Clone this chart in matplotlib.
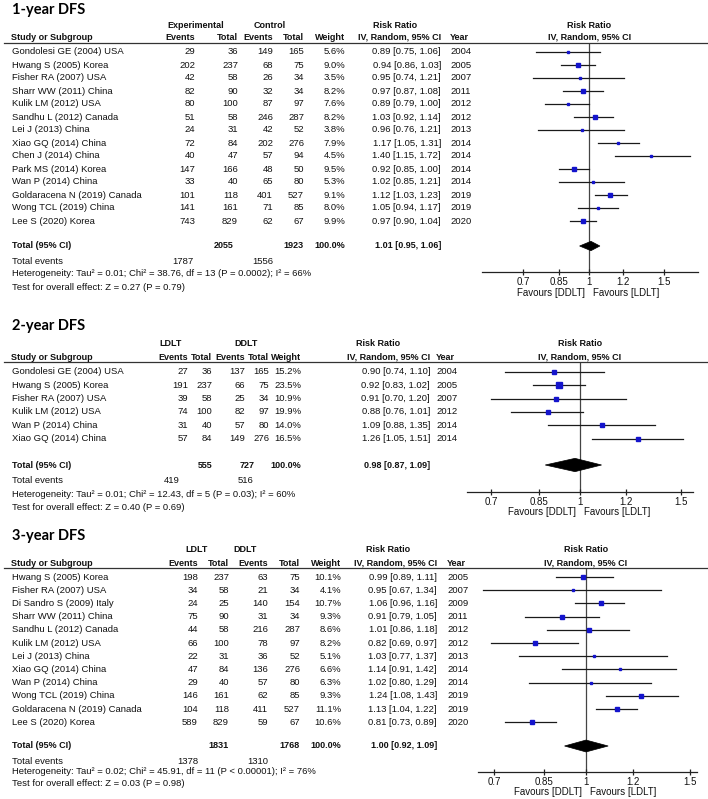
import matplotlib
matplotlib.use('Agg')
import matplotlib.pyplot as plt
from matplotlib.lines import Line2D
from matplotlib.patches import Polygon
from matplotlib.ticker import NullLocator, FixedLocator, FixedFormatter
from matplotlib.transforms import blended_transform_factory, offset_copy
import numpy as np

# ---------------- DATA ----------------
y1_studies = ["Gondolesi GE (2004) USA", "Hwang S (2005) Korea", "Fisher RA (2007) USA",
              "Sharr WW (2011) China", "Kulik LM (2012) USA", "Sandhu L (2012) Canada",
              "Lei J (2013) China", "Xiao GQ (2014) China", "Chen J (2014) China",
              "Park MS (2014) Korea", "Wan P (2014) China", "Goldaracena N (2019) Canada",
              "Wong TCL (2019) China", "Lee S (2020) Korea"]
y1_ev_a = [29, 202, 42, 82, 80, 51, 24, 72, 40, 147, 33, 101, 141, 743]
y1_tot_a = [36, 237, 58, 90, 100, 58, 31, 84, 47, 166, 40, 118, 161, 829]
y1_ev_b = [149, 68, 26, 32, 87, 246, 42, 202, 57, 48, 65, 401, 71, 62]
y1_tot_b = [165, 75, 34, 34, 97, 287, 52, 276, 94, 50, 80, 527, 85, 67]
y1_weight = [5.6, 9.0, 3.5, 8.2, 7.6, 8.2, 3.8, 7.9, 4.5, 9.5, 5.3, 9.1, 8.0, 9.9]
y1_rr = [0.89, 0.94, 0.95, 0.97, 0.89, 1.03, 0.96, 1.17, 1.40, 0.92, 1.02, 1.12, 1.05, 0.97]
y1_lo = [0.75, 0.86, 0.74, 0.87, 0.79, 0.92, 0.76, 1.05, 1.15, 0.85, 0.85, 1.03, 0.94, 0.90]
y1_hi = [1.06, 1.03, 1.21, 1.08, 1.00, 1.14, 1.21, 1.31, 1.72, 1.00, 1.21, 1.23, 1.17, 1.04]
y1_year = [2004, 2005, 2007, 2011, 2012, 2012, 2013, 2014, 2014, 2014, 2014, 2019, 2019, 2020]
y1_groups = ["Experimental", "Control"]
y1_totals = [2055, 1923]
y1_total_events = [1787, 1556]
y1_pooled = [1.01, 0.95, 1.06]
y1_het = "Heterogeneity: Tau\u00b2 = 0.01; Chi\u00b2 = 38.76, df = 13 (P = 0.0002); I\u00b2 = 66%"
y1_test = "Test for overall effect: Z = 0.27 (P = 0.79)"

y2_studies = ["Gondolesi GE (2004) USA", "Hwang S (2005) Korea", "Fisher RA (2007) USA",
              "Kulik LM (2012) USA", "Wan P (2014) China", "Xiao GQ (2014) China"]
y2_ev_a = [27, 191, 39, 74, 31, 57]
y2_tot_a = [36, 237, 58, 100, 40, 84]
y2_ev_b = [137, 66, 25, 82, 57, 149]
y2_tot_b = [165, 75, 34, 97, 80, 276]
y2_weight = [15.2, 23.5, 10.9, 19.9, 14.0, 16.5]
y2_rr = [0.90, 0.92, 0.91, 0.88, 1.09, 1.26]
y2_lo = [0.74, 0.83, 0.70, 0.76, 0.88, 1.05]
y2_hi = [1.10, 1.02, 1.20, 1.01, 1.35, 1.51]
y2_year = [2004, 2005, 2007, 2012, 2014, 2014]
y2_groups = ["LDLT", "DDLT"]
y2_totals = [555, 727]
y2_total_events = [419, 516]
y2_pooled = [0.98, 0.87, 1.09]
y2_het = "Heterogeneity: Tau\u00b2 = 0.01; Chi\u00b2 = 12.43, df = 5 (P = 0.03); I\u00b2 = 60%"
y2_test = "Test for overall effect: Z = 0.40 (P = 0.69)"

y3_studies = ["Hwang S (2005) Korea", "Fisher RA (2007) USA", "Di Sandro S (2009) Italy",
              "Sharr WW (2011) China", "Sandhu L (2012) Canada", "Kulik LM (2012) USA",
              "Lei J (2013) China", "Xiao GQ (2014) China", "Wan P (2014) China",
              "Wong TCL (2019) China", "Goldaracena N (2019) Canada", "Lee S (2020) Korea"]
y3_ev_a = [198, 34, 24, 75, 44, 66, 22, 47, 29, 146, 104, 589]
y3_tot_a = [237, 58, 25, 90, 58, 100, 31, 84, 40, 161, 118, 829]
y3_ev_b = [63, 21, 140, 31, 216, 78, 36, 136, 57, 62, 411, 59]
y3_tot_b = [75, 34, 154, 34, 287, 97, 52, 276, 80, 85, 527, 67]
y3_weight = [10.1, 4.1, 10.7, 9.3, 8.6, 8.2, 5.1, 6.6, 6.3, 9.3, 11.1, 10.6]
y3_rr = [0.99, 0.95, 1.06, 0.91, 1.01, 0.82, 1.03, 1.14, 1.02, 1.24, 1.13, 0.81]
y3_lo = [0.89, 0.67, 0.96, 0.79, 0.86, 0.69, 0.77, 0.91, 0.80, 1.08, 1.04, 0.73]
y3_hi = [1.11, 1.34, 1.16, 1.05, 1.18, 0.97, 1.37, 1.42, 1.29, 1.43, 1.22, 0.89]
y3_year = [2005, 2007, 2009, 2011, 2012, 2012, 2013, 2014, 2014, 2019, 2019, 2020]
y3_groups = ["LDLT", "DDLT"]
y3_totals = [1831, 1768]
y3_total_events = [1378, 1310]
y3_pooled = [1.00, 0.92, 1.09]
y3_het = "Heterogeneity: Tau\u00b2 = 0.02; Chi\u00b2 = 45.91, df = 11 (P < 0.00001); I\u00b2 = 76%"
y3_test = "Test for overall effect: Z = 0.03 (P = 0.98)"

titles = ["1-year DFS", "2-year DFS", "3-year DFS"]
tick_values = [0.7, 0.85, 1, 1.2, 1.5]
tick_labels = ["0.7", "0.85", "1", "1.2", "1.5"]
favours = ["Favours [DDLT]", "Favours [LDLT]"]

# ---------------- LAYOUT (pixels) ----------------
W, H = 708, 799
fig = plt.figure(figsize=(W / 100, H / 100), dpi=100)
fig.patch.set_facecolor('white')
FONT = 'Liberation Sans'
FS = 6.8
FSB = 6.5
TXT = '#111111'


def fx(x):
    return x / W


def fy(y):
    return 1 - y / H


def txt(x, y, s, ha='left', bold=False, size=None, family=FONT, color=TXT):
    if size is None:
        size = FSB if bold else FS
    return fig.text(fx(x), fy(y), s, ha=ha, va='center', fontsize=size,
                    fontweight='bold' if bold else 'normal', family=family, color=color)


layouts = [
    dict(title_y=10, grp_y=25, hdr_y=37, line_y=43, y0=52, dy=13.0, total_y=246,
         tev_y=261, het_y=274, test_y=287, ev1=195, tot1=238, ev2=273, tot2=304, wt=345,
         rr=441, year=450, grp1=196, grp2=270, rr_hdr=395, tt1=233, tt2=304, tev1=194, tev2=273,
         ax_x0=482, ax_x1=698, ax_bot=272, xlim=(0.561, 1.80), dia_h=0.36, fav_y=293),
    dict(title_y=326, grp_y=344, hdr_y=357, line_y=362, y0=372, dy=13.3, total_y=465,
         tev_y=480, het_y=494, test_y=507, ev1=188, tot1=212, ev2=245, tot2=269, wt=301,
         rr=430, year=436, grp1=171, grp2=246, rr_hdr=378, tt1=212, tt2=255, tev1=180, tev2=253,
         ax_x0=467, ax_x1=693, ax_bot=492, xlim=(0.636, 1.572), dia_h=0.5, fav_y=512),
    dict(title_y=536, grp_y=549, hdr_y=563, line_y=568, y0=577, dy=13.2, total_y=746,
         tev_y=761, het_y=772, test_y=783, ev1=198, tot1=229, ev2=268, tot2=300, wt=341,
         rr=437, year=447, grp1=197, grp2=245, rr_hdr=388, tt1=229, tt2=300, tev1=198, tev2=268,
         ax_x0=478, ax_x1=697, ax_bot=772, xlim=(0.657, 1.54), dia_h=0.45, fav_y=792),
]

panels = [
    (y1_studies, y1_ev_a, y1_tot_a, y1_ev_b, y1_tot_b, y1_weight, y1_rr, y1_lo, y1_hi, y1_year,
     y1_groups, y1_totals, y1_total_events, y1_pooled, y1_het, y1_test),
    (y2_studies, y2_ev_a, y2_tot_a, y2_ev_b, y2_tot_b, y2_weight, y2_rr, y2_lo, y2_hi, y2_year,
     y2_groups, y2_totals, y2_total_events, y2_pooled, y2_het, y2_test),
    (y3_studies, y3_ev_a, y3_tot_a, y3_ev_b, y3_tot_b, y3_weight, y3_rr, y3_lo, y3_hi, y3_year,
     y3_groups, y3_totals, y3_total_events, y3_pooled, y3_het, y3_test),
]


def draw_panel(title, data, L):
    (studies, ev_a, tot_a, ev_b, tot_b, weight, rr, lo, hi, year,
     groups, totals, total_events, pooled, het, test) = data
    n = len(studies)

    txt(12, L['title_y'], title, bold=True, size=10.5, family='Lato', color='black')

    txt(L['grp1'], L['grp_y'], groups[0], ha='center', bold=True)
    txt(L['grp2'], L['grp_y'], groups[1], ha='center', bold=True)
    txt(L['rr_hdr'], L['grp_y'], "Risk Ratio", ha='center', bold=True)

    txt(11, L['hdr_y'], "Study or Subgroup", bold=True)
    txt(L['ev1'], L['hdr_y'], "Events", ha='right', bold=True)
    txt(L['tot1'], L['hdr_y'], "Total", ha='right', bold=True)
    txt(L['ev2'], L['hdr_y'], "Events", ha='right', bold=True)
    txt(L['tot2'], L['hdr_y'], "Total", ha='right', bold=True)
    txt(L['wt'], L['hdr_y'], "Weight", ha='right', bold=True)
    txt(L['rr'], L['hdr_y'], "IV, Random, 95% CI", ha='right', bold=True)
    txt(L['year'], L['hdr_y'], "Year", bold=True)

    fig.add_artist(Line2D([fx(4), fx(708)], [fy(L['line_y']), fy(L['line_y'])],
                          color='#333333', lw=0.9))

    for i in range(n):
        y = L['y0'] + i * L['dy']
        txt(12, y, studies[i])
        txt(L['ev1'], y, str(ev_a[i]), ha='right')
        txt(L['tot1'], y, str(tot_a[i]), ha='right')
        txt(L['ev2'], y, str(ev_b[i]), ha='right')
        txt(L['tot2'], y, str(tot_b[i]), ha='right')
        txt(L['wt'], y, f"{weight[i]:.1f}%", ha='right')
        txt(L['rr'], y, f"{rr[i]:.2f} [{lo[i]:.2f}, {hi[i]:.2f}]", ha='right')
        txt(L['year'], y, str(year[i]))

    ty = L['total_y']
    txt(12, ty, "Total (95% CI)", bold=True)
    txt(L['tt1'], ty, str(totals[0]), ha='right', bold=True)
    txt(L['tt2'], ty, str(totals[1]), ha='right', bold=True)
    txt(L['wt'], ty, "100.0%", ha='right', bold=True)
    txt(L['rr'], ty, f"{pooled[0]:.2f} [{pooled[1]:.2f}, {pooled[2]:.2f}]", ha='right', bold=True)
    txt(12, L['tev_y'], "Total events")
    txt(L['tev1'], L['tev_y'], str(total_events[0]), ha='right')
    txt(L['tev2'], L['tev_y'], str(total_events[1]), ha='right')
    txt(12, L['het_y'], het)
    txt(12, L['test_y'], test)

    left = fx(L['ax_x0'])
    width = (L['ax_x1'] - L['ax_x0']) / W
    bottom = fy(L['ax_bot'])
    height = (L['ax_bot'] - L['line_y']) / H
    ax = fig.add_axes([left, bottom, width, height])
    ax.set_xscale('log')
    ax.set_xlim(*L['xlim'])
    top_idx = (L['line_y'] - L['y0']) / L['dy']
    bot_idx = (L['ax_bot'] - L['y0']) / L['dy']
    ax.set_ylim(bot_idx, top_idx)
    ax.patch.set_alpha(0)
    for s in ['top', 'left', 'right']:
        ax.spines[s].set_visible(False)
    ax.spines['bottom'].set_color('#222222')
    ax.spines['bottom'].set_linewidth(0.9)
    ax.set_yticks([])
    ax.xaxis.set_major_locator(FixedLocator(tick_values))
    ax.xaxis.set_major_formatter(FixedFormatter(tick_labels))
    ax.xaxis.set_minor_locator(NullLocator())
    ax.tick_params(axis='x', direction='inout', length=5, width=0.9, color='#222222',
                   pad=1.2, labelsize=7, labelcolor=TXT)
    for lab in ax.get_xticklabels():
        lab.set_family(FONT)

    ax.axvline(1, color='#444444', lw=0.9, zorder=1)

    for i in range(n):
        ax.plot([lo[i], hi[i]], [i, i], color='#1a1a1a', lw=0.9, zorder=2)
        ms = max(2.0, 1.05 * np.sqrt(weight[i])) * 0.72
        ax.plot(rr[i], i, marker='s', ms=ms, color='#1414cc', mec='#1414cc', zorder=3)

    t_idx = (L['total_y'] - L['y0']) / L['dy']
    h = L['dia_h']
    dia = Polygon([[pooled[1], t_idx], [pooled[0], t_idx - h], [pooled[2], t_idx],
                   [pooled[0], t_idx + h]], closed=True, facecolor='black',
                  edgecolor='black', lw=0.5, zorder=4)
    ax.add_patch(dia)

    trans = blended_transform_factory(ax.transData, fig.transFigure)
    fig.text(1, fy(L['grp_y']), "Risk Ratio", transform=trans, ha='center', va='center',
             fontsize=FSB, fontweight='bold', family=FONT, color=TXT)
    fig.text(1, fy(L['hdr_y']), "IV, Random, 95% CI", transform=trans, ha='center',
             va='center', fontsize=FSB, fontweight='bold', family=FONT, color=TXT)
    tl = offset_copy(trans, fig=fig, x=-3, units='points')
    tr = offset_copy(trans, fig=fig, x=3, units='points')
    fig.text(1, fy(L['fav_y']), favours[0], transform=tl, ha='right', va='center',
             fontsize=7, family=FONT, color=TXT)
    fig.text(1, fy(L['fav_y']), favours[1], transform=tr, ha='left', va='center',
             fontsize=7, family=FONT, color=TXT)


for title, data, L in zip(titles, panels, layouts):
    draw_panel(title, data, L)

fig.savefig('out.png', dpi=100, facecolor='white')
